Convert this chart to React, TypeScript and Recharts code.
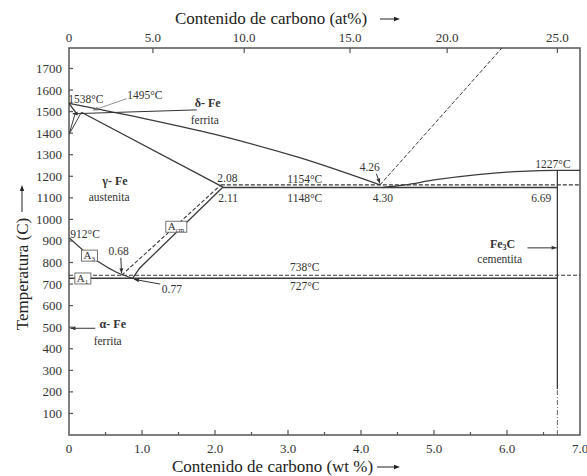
import React from 'react';
import {
  ComposedChart, Line, XAxis, YAxis, ReferenceArea, ReferenceDot, ReferenceLine, Label,
} from 'recharts';

const FONT = '"Liberation Serif", "Times New Roman", serif';
const INK = '#333';
const AXIS = '#555';

// bottom axis: wt % carbon
const wtTicks = [0, 0.5, 1, 1.5, 2, 2.5, 3, 3.5, 4, 4.5, 5, 5.5, 6, 6.5, 7];
const wtLabels = ['0', '', '1.0', '', '2.0', '', '3.0', '', '4.0', '', '5.0', '', '6.0', '', '7.0'];
// top axis: at % carbon, placed at the wt % where the picture draws them
const atTicks = [0, 1.15, 2.4, 3.85, 5.18, 6.69];
const atLabels = ['0', '5.0', '10.0', '15.0', '20.0', '25.0'];
const tempTicks = [100, 200, 300, 400, 500, 600, 700, 800, 900, 1000, 1100, 1200, 1300, 1400, 1500, 1600, 1700];

// phase boundaries, x = wt % C, t = °C
const liquidus = [{ x: 0, t: 1538 }, { x: 1.0, t: 1470 }, { x: 2.0, t: 1394 }, { x: 3.16, t: 1286 }, { x: 4.26, t: 1160 }];
const solidusGamma = [{ x: 0.17, t: 1497 }, { x: 2.11, t: 1150 }];
const deltaSolidus = [{ x: 0, t: 1538 }, { x: 0.09, t: 1497 }];
const deltaGammaA = [{ x: 0, t: 1394 }, { x: 0.09, t: 1497 }];
const deltaGammaB = [{ x: 0, t: 1394 }, { x: 0.17, t: 1497 }];
const eutecticSolid = [{ x: 2.11, t: 1148 }, { x: 6.69, t: 1148 }];
const eutecticDashed = [{ x: 2.08, t: 1160 }, { x: 7.0, t: 1160 }];
const cementiteLiquidus = [{ x: 4.3, t: 1148 }, { x: 4.6, t: 1160 }, { x: 5.0, t: 1183 }, { x: 5.6, t: 1208 }, { x: 6.2, t: 1223 }, { x: 6.69, t: 1227 }, { x: 7.0, t: 1227 }];
const graphiteLiquidus = [{ x: 4.26, t: 1160 }, { x: 5.93, t: 1795 }];
const cementiteSolid = [{ x: 6.69, t: 213 }, { x: 6.69, t: 1227 }];
const cementiteLow = [{ x: 6.69, t: 0 }, { x: 6.69, t: 213 }];
const eutectoidSolid = [{ x: 0, t: 727 }, { x: 6.69, t: 727 }];
const eutectoidDashed = [{ x: 0, t: 741 }, { x: 7.0, t: 741 }];
const a3Line = [{ x: 0, t: 915 }, { x: 0.2, t: 855 }, { x: 0.42, t: 800 }, { x: 0.65, t: 755 }, { x: 0.87, t: 727 }];
const acmDashed = [{ x: 0.72, t: 741 }, { x: 2.08, t: 1160 }];
const acmSolid = [{ x: 0.87, t: 727 }, { x: 0.97, t: 775 }, { x: 2.11, t: 1150 }];

// pointers: from label to tip
const pointers = [
  { from: [0.79, 1560], to: [0.33, 1506], light: true },
  { from: [1.75, 1508], to: [0.05, 1490], light: false },
  { from: [0.71, 822], to: [0.72, 750], light: false },
  { from: [1.25, 700], to: [0.89, 722], light: false },
  { from: [4.21, 1212], to: [4.26, 1166], light: false },
  { from: [0.36, 495], to: [0.02, 495], light: false },
  { from: [6.28, 868], to: [6.68, 868], light: false },
];

const notes = [
  { x: 0.23, t: 1559, text: '1538°C' },
  { x: 1.04, t: 1578, text: '1495°C' },
  { x: 1.9, t: 1540, text: 'δ- Fe', bold: true },
  { x: 1.86, t: 1463, text: 'ferrita' },
  { x: 0.63, t: 1176, text: 'γ- Fe', bold: true },
  { x: 0.55, t: 1104, text: 'austenita' },
  { x: 2.17, t: 1193, text: '2.08' },
  { x: 2.18, t: 1100, text: '2.11' },
  { x: 3.23, t: 1187, text: '1154°C' },
  { x: 3.23, t: 1100, text: '1148°C' },
  { x: 4.12, t: 1244, text: '4.26' },
  { x: 4.3, t: 1100, text: '4.30' },
  { x: 6.63, t: 1259, text: '1227°C' },
  { x: 6.47, t: 1101, text: '6.69' },
  { x: 0.22, t: 934, text: '912°C' },
  { x: 0.68, t: 853, text: '0.68' },
  { x: 1.41, t: 678, text: '0.77' },
  { x: 3.23, t: 781, text: '738°C' },
  { x: 3.23, t: 690, text: '727°C' },
  { x: 5.94, t: 886, text: 'Fe', sub: '3', tail: 'C', bold: true },
  { x: 5.9, t: 815, text: 'cementita' },
  { x: 0.6, t: 513, text: 'α- Fe', bold: true },
  { x: 0.53, t: 436, text: 'ferrita' },
];

const boxes = [
  { x: 0.28, t: 832, text: 'A', sub: '3', w: 16 },
  { x: 1.47, t: 966, text: 'A', sub: 'cm', w: 21 },
  { x: 0.19, t: 726, text: 'A', sub: '1', w: 16 },
];

const arrowHead = (x1: number, y1: number, x2: number, y2: number, L = 6, W = 2.4) => {
  const a = Math.atan2(y2 - y1, x2 - x1);
  const bx = x2 - L * Math.cos(a);
  const by = y2 - L * Math.sin(a);
  const s = Math.sin(a), c = Math.cos(a);
  return `${x2},${y2} ${bx - W * s},${by + W * c} ${bx + W * s},${by - W * c}`;
};

const BottomTick = (props: any) => {
  const { x, y, payload } = props;
  const i = wtTicks.indexOf(payload.value);
  const label = wtLabels[i];
  const inner = payload.value > 0 && payload.value < 7;
  return (
    <g>
      {inner && <line x1={x} x2={x} y1={y} y2={y - (label ? 5 : 3)} stroke={AXIS} strokeWidth={1.2} />}
      {label && (
        <text x={x} y={y + 18} textAnchor="middle" fontFamily={FONT} fontSize={13} fill={INK}>{label}</text>
      )}
    </g>
  );
};

const TopTick = (props: any) => {
  const { x, y, payload } = props;
  const label = atLabels[atTicks.indexOf(payload.value)];
  return (
    <g>
      {payload.value > 0 && <line x1={x} x2={x} y1={y} y2={y + 5} stroke={AXIS} strokeWidth={1.2} />}
      <text x={x} y={y - 6} textAnchor="middle" fontFamily={FONT} fontSize={13} fill={INK}>{label}</text>
    </g>
  );
};

const LeftTick = (props: any) => {
  const { x, y, payload } = props;
  return (
    <g>
      <line x1={x} x2={x + 4} y1={y} y2={y} stroke={AXIS} strokeWidth={1.2} />
      <text x={x - 7} y={y} textAnchor="end" dominantBaseline="central" fontFamily={FONT} fontSize={13} fill={INK}>
        {payload.value}
      </text>
    </g>
  );
};

const TopTitle = (props: any) => {
  const vb = props.viewBox;
  const y = vb.y + 4;
  return (
    <g>
      <text x={vb.x + 106} y={y} fontFamily={FONT} fontSize={17} fill="#222">Contenido de carbono (at%)</text>
      <line x1={vb.x + 311} x2={vb.x + 328} y1={y - 5} y2={y - 5} stroke="#222" strokeWidth={1} />
      <polygon points={arrowHead(vb.x + 311, y - 5, vb.x + 331, y - 5, 6, 2.2)} fill="#222" />
    </g>
  );
};

const BottomTitle = (props: any) => {
  const vb = props.viewBox;
  const y = vb.y + 37;
  return (
    <g>
      <text x={vb.x + 103} y={y} fontFamily={FONT} fontSize={17} fill="#222">Contenido de carbono (wt %)</text>
      <line x1={vb.x + 308} x2={vb.x + 328} y1={y - 5} y2={y - 5} stroke="#222" strokeWidth={1} />
      <polygon points={arrowHead(vb.x + 308, y - 5, vb.x + 331, y - 5, 6, 2.2)} fill="#222" />
    </g>
  );
};

const LeftTitle = (props: any) => {
  const vb = props.viewBox;
  const cx = vb.x - 2;
  const cy = 274;
  return (
    <g>
      <text x={cx} y={cy} transform={`rotate(-90, ${cx}, ${cy})`} textAnchor="middle" dominantBaseline="central"
        fontFamily={FONT} fontSize={17} fill="#222">Temperatura (C)</text>
      <line x1={cx} x2={cx} y1={212} y2={190} stroke="#222" strokeWidth={1} />
      <polygon points={arrowHead(cx, 212, cx, 185, 6, 2.2)} fill="#222" />
    </g>
  );
};

const Pointer = (light: boolean) => (props: any) => {
  const { x1, y1, x2, y2 } = props;
  const col = light ? '#777' : '#333';
  return (
    <g>
      <line x1={x1} y1={y1} x2={x2} y2={y2} stroke={col} strokeWidth={light ? 0.8 : 1} />
      <polygon points={arrowHead(x1, y1, x2, y2, 5, 2)} fill={col} />
    </g>
  );
};

const Note = (n: any) => (props: any) => (
  <text x={props.cx} y={props.cy} textAnchor="middle" dominantBaseline="central" fontFamily={FONT}
    fontSize={n.bold ? 12 : 11.5} fontWeight={n.bold ? 'bold' : 'normal'} fill={INK}>
    {n.text}
    {n.sub && <tspan dy={3} fontSize={8}>{n.sub}</tspan>}
    {n.tail && <tspan dy={-3}>{n.tail}</tspan>}
  </text>
);

const Box = (b: any) => (props: any) => (
  <g>
    <rect x={props.cx - b.w / 2} y={props.cy - 5.5} width={b.w} height={11} fill="#fff" stroke="#666" strokeWidth={0.9} />
    <text x={props.cx - b.w / 2 + 2} y={props.cy + 3.5} fontFamily={FONT} fontSize={11} fill={INK}>
      {b.text}
      <tspan dy={2} fontSize={7}>{b.sub}</tspan>
    </text>
  </g>
);

const seg = (data: any[], key: string, opts: any = {}) => (
  <Line key={key} data={data} dataKey="t" type={opts.curve ? 'monotone' : 'linear'} dot={false}
    stroke={opts.color || '#3a3a3a'} strokeWidth={opts.width || 1.3} strokeDasharray={opts.dash}
    isAnimationActive={false} legendType="none" />
);

export default function App() {
  return (
    <div style={{ position: 'absolute', left: 0, top: 0, width: 587, height: 476, background: '#fff' }}>
      <ComposedChart width={587} height={476} margin={{ top: 20, right: 7, bottom: 11, left: 24 }}>
        <XAxis xAxisId={0} type="number" dataKey="x" domain={[0, 7]} allowDataOverflow ticks={wtTicks}
          interval={0} tick={<BottomTick />} tickLine={false} axisLine={false} tickSize={0} tickMargin={0} height={30}>
          <Label content={<BottomTitle />} />
        </XAxis>
        <XAxis xAxisId="top" orientation="top" type="number" dataKey="x" domain={[0, 7]} allowDataOverflow
          ticks={atTicks} interval={0} tick={<TopTick />} tickLine={false} axisLine={false} tickSize={0}
          tickMargin={0} height={28}>
          <Label content={<TopTitle />} />
        </XAxis>
        <YAxis type="number" domain={[0, 1795]} allowDataOverflow ticks={tempTicks} interval={0}
          tick={<LeftTick />} tickLine={false} axisLine={false} tickSize={0} tickMargin={0} width={45}>
          <Label content={<LeftTitle />} />
        </YAxis>

        <ReferenceArea x1={0} x2={7} y1={0} y2={1795} fill="none" stroke={AXIS} strokeWidth={1.5} />

        {seg(liquidus, 'liq', { curve: true })}
        {seg(solidusGamma, 'sol')}
        {seg(deltaSolidus, 'dsol')}
        {seg(deltaGammaA, 'dga', { width: 1 })}
        {seg(deltaGammaB, 'dgb', { width: 1 })}
        {seg(eutecticSolid, 'eus')}
        {seg(eutecticDashed, 'eud', { dash: '4 2', width: 1.1 })}
        {seg(cementiteLiquidus, 'cliq', { curve: true })}
        {seg(graphiteLiquidus, 'gliq', { dash: '4 2', width: 1 })}
        {seg(cementiteSolid, 'cs')}
        {seg(cementiteLow, 'cl', { dash: '5 2 1 2', width: 1, color: '#666' })}
        {seg(eutectoidSolid, 'eds')}
        {seg(eutectoidDashed, 'edd', { dash: '4 2', width: 1.1 })}
        {seg(a3Line, 'a3', { curve: true })}
        {seg(acmDashed, 'acmd', { dash: '4 2', width: 1.1 })}
        {seg(acmSolid, 'acms')}

        {pointers.map((p, i) => (
          <ReferenceLine key={`p${i}`} segment={[{ x: p.from[0], y: p.from[1] }, { x: p.to[0], y: p.to[1] }]}
            shape={Pointer(p.light)} />
        ))}
        {boxes.map((b, i) => (
          <ReferenceDot key={`b${i}`} x={b.x} y={b.t} r={1} shape={Box(b)} />
        ))}
        {notes.map((n, i) => (
          <ReferenceDot key={`n${i}`} x={n.x} y={n.t} r={1} shape={Note(n)} />
        ))}
      </ComposedChart>
    </div>
  );
}
